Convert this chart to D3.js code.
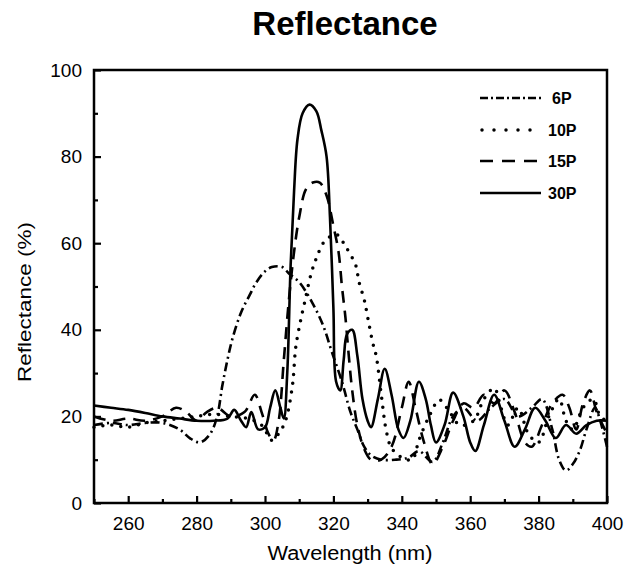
<!DOCTYPE html>
<html>
<head>
<meta charset="utf-8">
<script src="https://cdn.jsdelivr.net/npm/d3@7"></script>
<style>
  body { margin: 0; background: #fff; }
  text { font-family: "Liberation Sans", Arial, sans-serif; }
</style>
</head>
<body>
<div id="main"></div>
<script>
// data (wavelength nm, reflectance %)
var p6 = [[250,18],[255,18.5],[260,18],[265,18.5],[270,18.5],[275,17],[278,15],[281,14],[284,16],[286,20],[287.5,27],[289,33],[290.5,38],[293,44],[295.5,48],[297.5,51],[300,53.5],[302,54.5],[305,54.5],[307,53],[310,51],[314,46],[317,41],[319.5,35],[322.5,28],[325,21],[327,17],[329,13],[331,11],[334,10],[338,10],[342,10.5],[345,12],[349,9.5],[352,14],[355,20],[358,22],[362,19],[366,22],[370,24],[374,20],[378,22],[381,24],[384,17],[386,10],[388,7.5],[390,9],[392,12],[394,17],[396.5,22],[398,19],[400,13]];
var p10 = [[250,17.5],[255,18],[260,17.5],[265,18.5],[270,19],[275,19.5],[280,20],[285,20.5],[290,20],[295,19.5],[299,18],[302,14.5],[304,16],[306,19],[308,27],[309,36],[310.5,42.5],[311.5,46],[313.5,53],[315,56.5],[317,60],[319,61.5],[321,62],[323,60],[324.5,58],[326.5,55],[327.5,51],[329,47],[330,43],[331.5,37],[332.5,34],[334,25],[335.5,16.5],[337,12.7],[340,10.5],[343,10],[345,14.5],[348,20],[351,23.8],[354,21],[357,18],[361,19],[364,24],[367,26.5],[369,22],[371,18],[374,22],[377,16],[380,14],[383,20],[386,24],[388,19],[390,17],[393,22],[396,24],[398,20],[400,19]];
var p15 = [[250,20],[255,19],[260,19.5],[265,19],[270,20],[274,22],[277,21],[280,19],[283,21],[286,22],[290,20],[294,21],[297,25],[299,21],[301,16],[302.5,14.5],[304,19],[305.5,33],[307,47],[308.5,58],[310,66],[312,72.5],[314,74],[316,74],[318,71],[320,64],[321.5,58],[322.5,50],[323.5,43],[324.5,34],[325.5,26],[327,18],[329,12.5],[331,10],[334,10],[337,13],[340,22],[342,28],[344,22],[346.5,14],[349,9],[352,13],[355,19],[358,23],[361,22],[364,25],[367,23],[370,26],[373,21],[376,14],[378,13],[381,18],[384,23],[387,25],[389,22],[391,17],[393,23],[395,26],[397,21],[400,16]];
var p30 = [[250,22.5],[255,22],[260,21.5],[265,20.8],[270,20],[275,19.5],[280,19],[285,19],[289,19.5],[291,21.5],[293,19],[294.5,17.5],[296,21],[298,17],[300,17.5],[301.5,22],[303,26],[304.5,22],[305.5,19.5],[306.5,30],[307.5,55],[308.5,72],[309.5,84],[311,90],[313,92],[315,90.5],[316.5,86],[318,80],[319,66],[320,45],[320.8,28],[322,26],[323,33],[324,39],[325.5,40],[327,34],[328.5,24],[330,19],[331,17.5],[333,24],[335,31],[337,25],[339,17],[340.5,15],[342.5,19],[345,28],[347,24],[348.5,18],[350,14],[352.5,18],[355,25.5],[358,20],[360,14],[361.5,12],[364,18],[367,25],[370,19],[373,13],[376,17],[379,22],[382,19],[385,15],[388,18],[391,16],[394,18],[397,19],[400,19]];

var seriesNames = ["6P", "10P", "15P", "30P"];
var seriesData = [p6, p10, p15, p30];
var seriesDash = ["9,4,2,4", "0,9", "12,8", null];
var xMajor = [260, 280, 300, 320, 340, 360, 380, 400];
var xMinor = [250, 270, 290, 310, 330, 350, 370, 390];
var yMajor = [0, 20, 40, 60, 80, 100];
var yMinor = [10, 30, 50, 70, 90];

var W = 630, H = 570;
var plotL = 94, plotR = 607, plotT = 70, plotB = 503;

var svg = d3.select("#main").append("svg")
  .attr("width", W)
  .attr("height", H);

var x = d3.scaleLinear().domain([250, 400]).range([plotL, plotR]);
var y = d3.scaleLinear().domain([0, 100]).range([plotB, plotT]);

// title
svg.append("text")
  .attr("x", 345).attr("y", 35)
  .attr("text-anchor", "middle")
  .attr("font-size", 33).attr("font-weight", "bold")
  .text("Reflectance");

// curves
var line = d3.line()
  .x(function(d) { return x(d[0]); })
  .y(function(d) { return y(d[1]); })
  .curve(d3.curveCatmullRom);

seriesData.forEach(function(s, i) {
  var p = svg.append("path")
    .attr("d", line(s))
    .attr("fill", "none")
    .attr("stroke", "#000")
    .attr("stroke-width", i == 1 ? 3.5 : 2.6)
    .attr("stroke-linejoin", "round");
  if (seriesDash[i]) p.attr("stroke-dasharray", seriesDash[i]);
  if (i == 1) p.attr("stroke-linecap", "round");
});

// axes, ticks pointing inward
var xAxis = d3.axisBottom(x).tickValues(xMajor).tickSize(-7).tickPadding(14).tickFormat(d3.format("d"));
var xAxisMinor = d3.axisBottom(x).tickValues(xMinor).tickSize(-4).tickFormat("");
var yAxis = d3.axisLeft(y).tickValues(yMajor).tickSize(-7).tickPadding(12).tickFormat(d3.format("d"));
var yAxisMinor = d3.axisLeft(y).tickValues(yMinor).tickSize(-4).tickFormat("");

function styleAxis(g) {
  g.select(".domain").remove();
  g.selectAll(".tick line").attr("stroke", "#000").attr("stroke-width", 2.2);
  g.selectAll(".tick text").attr("fill", "#000").attr("font-size", 19)
    .attr("font-family", "'Liberation Sans', Arial, sans-serif");
}

svg.append("g").attr("transform", "translate(0," + plotB + ")").call(xAxis).call(styleAxis);
svg.append("g").attr("transform", "translate(0," + plotB + ")").call(xAxisMinor).call(styleAxis);
svg.append("g").attr("transform", "translate(" + plotL + ",0)").call(yAxis).call(styleAxis);
svg.append("g").attr("transform", "translate(" + plotL + ",0)").call(yAxisMinor).call(styleAxis);

// frame
svg.append("rect")
  .attr("x", plotL).attr("y", plotT)
  .attr("width", plotR - plotL).attr("height", plotB - plotT)
  .attr("fill", "none").attr("stroke", "#000").attr("stroke-width", 2.5);

// axis titles
svg.append("text")
  .attr("x", 350).attr("y", 560)
  .attr("text-anchor", "middle")
  .attr("font-size", 20)
  .attr("textLength", 165).attr("lengthAdjust", "spacingAndGlyphs")
  .text("Wavelength (nm)");

svg.append("text")
  .attr("transform", "translate(31," + 302 + ") rotate(-90)")
  .attr("text-anchor", "middle")
  .attr("font-size", 18)
  .attr("textLength", 160).attr("lengthAdjust", "spacingAndGlyphs")
  .text("Reflectance (%)");

// legend
var legY = [98, 130, 161, 193];
var legend = svg.append("g");
seriesNames.forEach(function(n, i) {
  var l = legend.append("line")
    .attr("x1", 480).attr("x2", 541)
    .attr("y1", legY[i]).attr("y2", legY[i])
    .attr("stroke", "#000")
    .attr("stroke-width", i == 1 ? 3.5 : 2.6);
  if (seriesDash[i]) l.attr("stroke-dasharray", i == 0 ? "8,3,2,3" : (i == 1 ? "0,12" : "13,9"));
  if (i == 1) l.attr("stroke-linecap", "round").attr("x1", 482);
  legend.append("text")
    .attr("x", i == 0 ? 552 : 548).attr("y", legY[i] + 6)
    .attr("font-size", 16).attr("font-weight", "bold")
    .text(n);
});
</script>
</body>
</html>
